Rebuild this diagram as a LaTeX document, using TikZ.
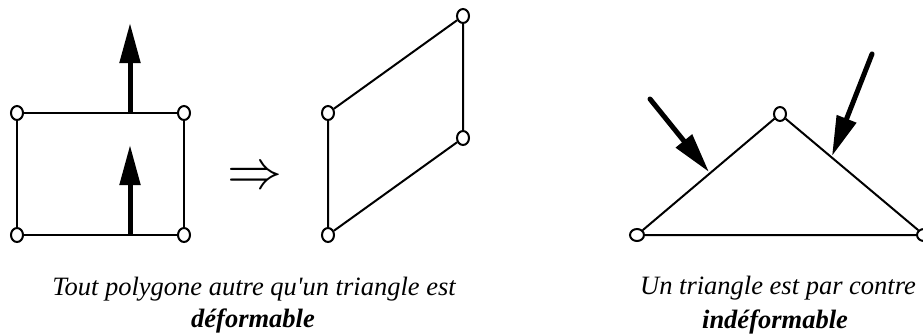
\documentclass[tikz,border=0pt]{standalone}
\usepackage{fontspec}
\setmainfont{Liberation Serif}
\usetikzlibrary{arrows.meta,shapes.geometric}

\tikzset{
  joint/.style={ellipse, draw, fill=white, line width=2pt, inner sep=0pt,
    minimum width=12pt, minimum height=14pt},
  flatjoint/.style={joint, minimum width=14pt, minimum height=12pt},
  force/.style={line width=5pt, -{Triangle[length=40pt,width=20pt]}},
  caption/.style={font=\fontsize{26.5}{30}\selectfont\itshape, anchor=base},
}

\begin{document}
\begin{tikzpicture}[x=1pt, y=-1pt, line width=2pt]
  \useasboundingbox (0,0) rectangle (923,335);

  % -- Rectangle with the two pushes --
  \node[joint] (ra) at (17,113) {};
  \node[joint] (rb) at (184,113) {};
  \node[joint] (rc) at (184,235) {};
  \node[joint] (rd) at (17,235) {};
  \draw (ra) -- (rb) -- (rc) -- (rd) -- (ra);
  \coordinate (pushTop) at (130,113);
  \coordinate (pushTopEnd) at (130,23);
  \coordinate (pushBot) at (130,235);
  \coordinate (pushBotEnd) at (130,145);
  \draw[force] (pushTop) -- (pushTopEnd);
  \draw[force] (pushBot) -- (pushBotEnd);

  % -- Implies sign --
  \node[scale=5.5, inner sep=0pt] (implies) at (255,178) {$\Rightarrow$};

  % -- Parallelogram (deformed) --
  \node[joint] (pa) at (328,113) {};
  \node[joint] (pb) at (463,16) {};
  \node[joint] (pc) at (463,138) {};
  \node[joint] (pd) at (328,235) {};
  \draw (pa) -- (pb) -- (pc) -- (pd) -- (pa);

  % -- Triangle with the two loads --
  \node[flatjoint] (ta) at (637,235) {};
  \node[joint] (tb) at (780,114) {};
  \node[flatjoint] (tc) at (924,235) {};
  \draw (ta) -- (tb) -- (tc) -- (ta);
  \coordinate (loadL) at (650,99);
  \coordinate (loadLEnd) at (709,172);
  \coordinate (loadR) at (872,54);
  \coordinate (loadREnd) at (832,156);
  \draw[force, line cap=round] (loadL) -- (loadLEnd);
  \draw[force, line cap=round] (loadR) -- (loadREnd);

  % Captions
  \node[caption] (capLa) at (254,295) {Tout polygone autre qu\textquotesingle un triangle est};
  \node[caption] (capLb) at (253,327) {\textbf{déformable}};
  \node[caption] (capRa) at (778,294) {Un triangle est par contre};
  \node[caption] (capRb) at (775,328) {\textbf{indéformable}};

\end{tikzpicture}
\end{document}
